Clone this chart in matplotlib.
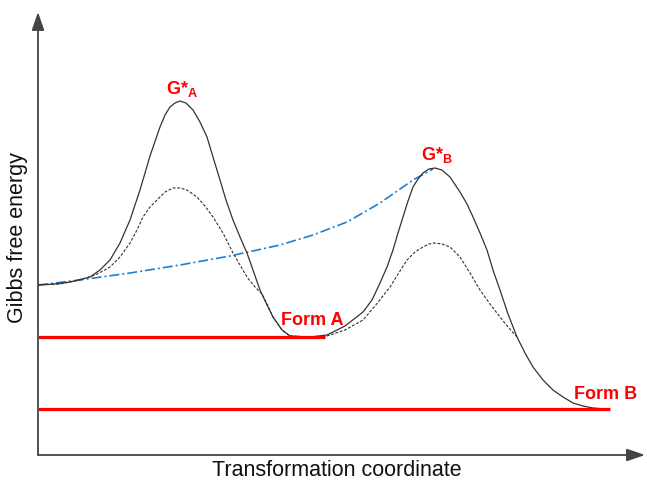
import matplotlib
matplotlib.use("Agg")
import matplotlib.pyplot as plt

plt.rcParams['font.family'] = ['Liberation Sans', 'DejaVu Sans']
plt.rcParams['mathtext.fontset'] = 'custom'
plt.rcParams['mathtext.rm'] = 'Liberation Sans:bold'
plt.rcParams['mathtext.bf'] = 'Liberation Sans:bold'

# path along the transformation coordinate (arbitrary units)
total_x = [0, 17, 32, 52, 62, 72, 82, 92, 102, 112, 122, 127, 132, 137, 142, 148, 155, 162,
           169, 175, 182, 188, 195, 202, 209, 215, 222, 229, 235, 244, 252, 272,
           289, 307, 325, 334, 342, 349, 355, 360, 365, 370, 375, 380, 385, 391,
           397, 404, 412, 422, 429, 435, 442, 449, 455, 462, 470, 479, 487, 495,
           505, 515, 525, 535, 545, 555, 567]
total_g = [170, 171, 173, 178, 185, 195, 212, 235, 265, 299, 328, 340, 348, 352, 354, 352, 345, 333,
           318, 298, 275, 255, 235, 218, 202, 185, 165, 150, 138, 125, 119, 118,
           120, 129, 143, 155, 172, 188, 205, 222, 238, 254, 268, 276, 282, 286,
           287, 285, 278, 263, 251, 238, 222, 205, 185, 165, 141, 118, 102, 88,
           75, 65, 58, 52, 49, 47, 46]

# second (dashed) path
alt_x = [0, 22, 42, 57, 65, 72, 82, 92, 99, 105, 112, 119, 127, 135, 142, 149, 159,
         167, 175, 185, 195, 202, 209, 217, 224, 230, 235, 244, 252, 272,
         289, 307, 325, 337, 352, 362, 369, 377, 385, 391, 397, 404, 412, 422, 432, 442,
         452, 462, 470, 479]
alt_g = [170, 171, 175, 180, 184, 188, 198, 212, 225, 238, 248, 255, 263, 267, 267, 265, 258,
         249, 238, 222, 202, 190, 178, 168, 161, 149, 138, 125, 119, 118,
         119, 125, 135, 149, 168, 184, 195, 203, 208, 211, 212, 211, 208, 198, 182, 165,
         151, 138, 128, 118]

# blue dash-dot envelope
env_x = [0, 42, 92, 142, 192, 242, 275, 309, 342, 375, 395]
env_g = [170, 175, 182, 190, 199, 210, 220, 233, 252, 275, 286]

# energy levels of the two forms
form_names = ['Form A', 'Form B']
form_g = [118.5, 46]
form_end = [287, 572]

fig = plt.figure(figsize=(6.47, 4.86), dpi=100)
ax = fig.add_axes([38 / 647, 31 / 486, 607 / 647, 443 / 486])
ax.set_xlim(0, 607)
ax.set_ylim(0, 443)

ax.plot(env_x, env_g, color='#1f7fd0', lw=1.2, ls=(0, (6, 1.8, 1.2, 1.8)))
ax.plot(alt_x, alt_g, color='#333333', lw=0.8, ls=(0, (2.6, 1.5)))
ax.plot(total_x, total_g, color='#333333', lw=0.9)

for g, end in zip(form_g, form_end):
    ax.plot([0, end], [g, g], color='#ff0000', lw=2.3, solid_capstyle='butt')

lab = dict(color='#ff0000', fontsize=13, fontweight='bold', ha='center', va='center')
ax.text(274, 135, form_names[0], **lab)
ax.text(568, 61, form_names[1], **lab)
ax.text(144, 366, r'G*$_\mathrm{A}$', **lab)
ax.text(399, 300, r'G*$_\mathrm{B}$', **lab)

# axes drawn as arrows
for s in ax.spines.values():
    s.set_visible(False)
ax.set_xticks([])
ax.set_yticks([])
arrow = dict(arrowstyle='-|>,head_length=1.1,head_width=0.38', color='#444444', lw=1.3,
             shrinkA=0, shrinkB=0)
ax.annotate('', xy=(0, 1), xytext=(0, 0), xycoords='axes fraction', arrowprops=arrow)
ax.annotate('', xy=(1, 0), xytext=(0, 0), xycoords='axes fraction', arrowprops=arrow)

fig.text(337 / 647, 1 - 470 / 486, 'Transformation coordinate', fontsize=15.5,
         ha='center', va='center', color='#111111')
fig.text(18 / 647, 1 - 238 / 486, 'Gibbs free energy', fontsize=15.5, rotation=90,
         ha='center', va='center', color='#111111')

fig.savefig('out.png', dpi=100)
